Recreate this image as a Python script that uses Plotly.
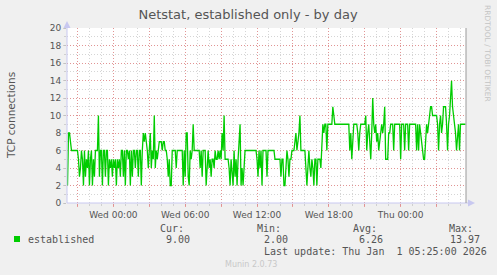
import plotly.graph_objects as go
import pandas as pd

# ---- data ----
start_time = "2025-12-30 20:10"
step_minutes = 5
established = [
    2, 8, 8, 7, 6, 6, 6, 6, 6, 6, 6,
    5, 3, 4, 6, 5, 2, 6, 3, 5, 4, 6, 2, 5, 6, 2, 5, 3,
    6, 6, 6, 10, 3, 6, 6, 2, 6, 6, 3, 6, 6, 2, 5, 4,
    5, 3, 5, 4, 5, 2, 5, 4, 5, 3, 6,
    6, 3, 6, 2, 6, 6, 5, 6, 2, 6, 3, 6, 6, 4, 6, 6, 3, 6, 6, 2, 6, 8, 7,
    8, 7, 6, 4, 6, 8, 4, 6, 5, 10, 4, 6, 5, 6, 7, 7, 7, 6, 7, 7, 6, 6, 5, 3,
    5, 2, 2, 6, 6, 6, 6, 4, 6, 6, 6, 6, 6, 6, 2, 6, 3, 8, 8, 3, 2, 6, 5, 6,
    9, 6, 6, 6, 6, 6, 6, 4, 6, 3, 6, 6, 6, 2, 5, 6, 4, 5, 3, 5, 5, 4, 6, 5,
    5, 6, 5, 6, 5, 8, 6,
    10, 5, 5, 5, 5, 4, 2, 5, 3, 2, 6, 3, 5, 2, 5, 7, 9, 2, 4, 2, 5,
    6, 6, 6, 6, 6, 6, 6, 6, 6, 6, 6, 6,
    5, 3, 6, 4, 6, 2, 6, 6, 6, 6, 3, 6, 6, 6, 6, 6, 6, 6,
    5, 5, 5, 5, 5, 5, 3, 5, 5, 2, 2, 5, 6, 5, 3, 5, 5, 6, 6, 6, 7, 8, 6, 7, 8,
    10, 6, 6, 6,
    6, 6, 4, 2, 4, 6, 4, 3, 5, 4, 2, 5, 5, 2, 5, 5, 5, 4, 7, 9, 8, 9, 9, 6,
    9, 9, 9, 9, 9, 11, 10,
    9, 9, 9, 9, 9, 9, 9, 9, 9, 9, 9, 9, 9, 9, 9,
    6, 8, 5, 8, 9, 9, 9, 9, 8, 6, 8, 9, 9, 9, 9, 9, 10, 6, 8, 9, 7, 5, 8, 12,
    9, 8, 9, 7, 8, 6, 7, 8, 9, 8, 9,
    11, 5, 5, 5, 8, 8, 9, 9, 9, 6, 9, 9, 9, 9, 9, 9, 5, 9, 9, 9, 6, 9, 9, 9,
    6, 9, 9, 9, 9, 9, 9, 9, 6, 9, 6, 9, 8, 7, 6, 5, 5, 7, 9, 8, 9.5, 10, 11,
    11, 10, 10, 10, 10, 10, 9, 6, 9, 10, 8, 9, 11, 11, 11, 9, 6, 9, 10, 12,
    13.97, 11, 10, 9, 8, 6, 8, 9, 6, 9, 9, 9, 9, 9, 9,
]
series_name = "established"
y_ticks = list(range(0, 21, 2))
x_tick_labels = ["", "Wed 00:00", "", "Wed 06:00", "", "Wed 12:00", "", "Wed 18:00", "", "Thu 00:00", ""]
stat_headers = ["Cur:", "Min:", "Avg:", "Max:"]
stat_values = ["9.00", "2.00", "6.26", "13.97"]
last_update = "Last update: Thu Jan  1 05:25:00 2026"

# ---- build ----
times = pd.date_range(start_time, periods=len(established), freq=f"{step_minutes}min")
x_range = [times[0] - pd.Timedelta(minutes=2.5), times[0] + pd.Timedelta(minutes=2000 - 2.5)]
tick_times = pd.date_range("2025-12-30 21:00", periods=len(x_tick_labels), freq="3h")

W, H = 497, 275
L, R, T, B = 67, 31, 28, 72
PW, PH = W - L - R, H - T - B

def pxx(x):
    return (x - L) / PW

def pxy(y):
    return (H - B - y) / PH

fig = go.Figure()
fig.add_trace(go.Scatter(
    x=times, y=established, mode="lines", name=series_name,
    line=dict(color="#00CC00", width=1.3), showlegend=False,
))

red = "rgba(230,120,120,0.7)"
gray = "rgba(185,185,185,0.6)"

fig.update_layout(
    width=W, height=H,
    margin=dict(l=L, r=R, t=T, b=B),
    paper_bgcolor="#F0F0F0", plot_bgcolor="#FFFFFF",
    font=dict(family="DejaVu Sans", color="#555555"),
    title=dict(text="Netstat, established only - by day", x=248 / W, xref="container",
               xanchor="center", y=1 - 14 / H, yref="container", yanchor="middle",
               font=dict(size=13, color="#555555", family="DejaVu Sans")),
    xaxis=dict(
        type="date", range=x_range, tickvals=tick_times, ticktext=x_tick_labels,
        showgrid=True, gridcolor=red, griddash="1px,2px", gridwidth=1,
        ticks="outside", ticklen=3, tickcolor=red, tickfont=dict(size=9, color="#555555"),
        showline=False, zeroline=False,
        minor=dict(dtick=3600000, tick0="2025-12-30 21:00", showgrid=True, gridcolor=gray,
                   griddash="1px,2px", ticks="outside", ticklen=2, tickcolor=gray),
    ),
    yaxis=dict(
        range=[0, 20], tickvals=y_ticks, showgrid=True, gridcolor=red, griddash="1px,2px",
        ticks="outside", ticklen=3, tickcolor=gray, tickfont=dict(size=9, color="#555555"),
        showline=False, zeroline=False,
        minor=dict(dtick=1, showgrid=True, gridcolor=gray, griddash="1px,2px",
                   ticks="outside", ticklen=2, tickcolor=gray),
    ),
)

axis_col = "#C8C8F0"
shapes = [
    # left axis
    dict(type="line", xref="paper", yref="paper", x0=0, x1=0, y0=0, y1=pxy(24), line=dict(color=axis_col, width=1)),
    dict(type="path", xref="paper", yref="paper",
         path=f"M {pxx(63.5)} {pxy(28)} L {pxx(70.5)} {pxy(28)} L {pxx(67)} {pxy(21)} Z",
         fillcolor=axis_col, line=dict(color=axis_col, width=0)),
    # bottom axis
    dict(type="line", xref="paper", yref="paper", x0=0, x1=pxx(470), y0=0, y1=0, line=dict(color=axis_col, width=1)),
    dict(type="path", xref="paper", yref="paper",
         path=f"M {pxx(468)} {pxy(199.5)} L {pxx(468)} {pxy(206.5)} L {pxx(475)} {pxy(203)} Z",
         fillcolor=axis_col, line=dict(color=axis_col, width=0)),
    # right border
    dict(type="line", xref="paper", yref="paper", x0=1, x1=1, y0=0, y1=1, line=dict(color="#999999", width=1)),
    # legend swatch
    dict(type="rect", xref="paper", yref="paper", x0=pxx(14), x1=pxx(20), y0=pxy(242), y1=pxy(236),
         fillcolor="#00CC00", line=dict(color="#00CC00", width=0)),
]
fig.update_layout(shapes=shapes)

mono = dict(family="DejaVu Sans Mono", size=10, color="#555555")

def ann(text, x, y, font, xanchor="left", angle=0):
    fig.add_annotation(text=text.replace(" ", "\u00a0"), x=pxx(x), y=pxy(y), xref="paper", yref="paper",
                       xanchor=xanchor, yanchor="middle", showarrow=False, font=font, textangle=angle)

ann("TCP connections", 11, 116, dict(family="DejaVu Sans", size=10.5, color="#555555"), xanchor="center", angle=-90)
ann("RRDTOOL / TOBI OETIKER", 488, 53, dict(family="DejaVu Sans", size=7.5, color="#C4C4C4"), xanchor="center", angle=90)
ann(series_name, 26, 239.5, mono)
for hdr, val, hx, vx in zip(stat_headers, stat_values, [158, 255, 351, 447], [164, 262, 357, 448]):
    ann(hdr, hx, 228, mono)
    ann(val, vx, 239.5, mono)
ann(last_update, 262, 251, mono)
ann("Munin 2.0.73", 223, 264.5, dict(family="DejaVu Sans", size=8, color="#C8C8C8"))

fig.write_html("out.html")
